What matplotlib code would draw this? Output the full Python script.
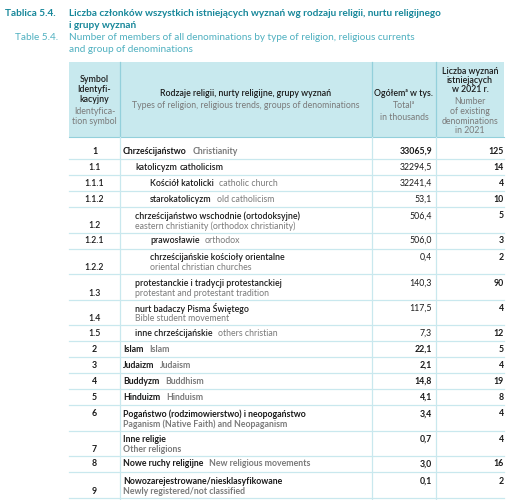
import matplotlib.pyplot as plt
from matplotlib.patches import Rectangle

plt.rcParams['font.family'] = ['Lato', 'DejaVu Sans']

# --- data ---
symbols = ['1', '1.1', '1.1.1', '1.1.2', '1.2', '1.2.1', '1.2.2', '1.3', '1.4', '1.5',
           '2', '3', '4', '5', '6', '7', '8', '9']
levels = [0, 1, 2, 2, 1, 2, 2, 1, 1, 1, 0, 0, 0, 0, 0, 0, 0, 0]
names_pl = ['Chrześcijaństwo', 'katolicyzm', 'Kościół katolicki', 'starokatolicyzm',
            'chrześcijaństwo wschodnie (ortodoksyjne)', 'prawosławie',
            'chrześcijańskie kościoły orientalne', 'protestanckie i tradycji protestanckiej',
            'nurt badaczy Pisma Świętego', 'inne chrześcijańskie', 'Islam', 'Judaizm',
            'Buddyzm', 'Hinduizm', 'Pogaństwo (rodzimowierstwo) i neopogaństwo',
            'Inne religie', 'Nowe ruchy religijne', 'Nowozarejestrowane/niesklasyfikowane']
names_en = ['Christianity', 'catholicism', 'catholic church', 'old catholicism',
            'eastern christianity (orthodox christianity)', 'orthodox',
            'oriental christian churches', 'protestant and protestant tradition',
            'Bible student movement', 'others christian', 'Islam', 'Judaism',
            'Buddhism', 'Hinduism', 'Paganism (Native Faith) and Neopaganism',
            'Other religions', 'New religious movements', 'Newly registered/not classified']
two_line = [False, False, False, False, True, False, True, True, True, False,
            False, False, False, False, True, True, False, True]
totals = [33065.9, 32294.5, 32241.4, 53.1, 506.4, 506.0, 0.4, 140.3, 117.5, 7.3,
          22.1, 2.1, 14.8, 4.1, 3.4, 0.7, 3.0, 0.1]
counts = [125, 14, 4, 10, 5, 3, 2, 90, 4, 12, 5, 4, 19, 8, 4, 4, 16, 2]

title_pl = ['Liczba członków wszystkich istniejących wyznań wg rodzaju religii, nurtu religijnego',
            'i grupy wyznań']
title_en = ['Number of members of all denominations by type of religion, religious currents',
            'and group of denominations']

# --- style ---
TEAL = '#17879a'
TEAL_LIGHT = '#4fb0c0'
HEAD_BG = '#c8e9ee'
LINE = '#c9e8ee'
VLINE_HEAD = '#93d0db'
GRAY = '#7a7a7a'
BLACK = '#1a1a1a'
FS = 6.3

X_LEFT, X_RIGHT = 69, 504
X_COLS = [120, 372, 436]
HEAD_TOP, HEAD_BOT = 62, 137
BODY_TOP = 143
H1, H2 = 16, 25.5

fig = plt.figure(figsize=(5.18, 5.0), dpi=100)
ax = fig.add_axes([0, 0, 1, 1])
ax.set_xlim(0, 518)
ax.set_ylim(500, 0)
ax.axis('off')

# title
ax.text(5, 14, 'Tablica 5.4.', color=TEAL, fontsize=7.2, fontweight='bold', va='center')
ax.text(15, 38, 'Table 5.4.', color=TEAL_LIGHT, fontsize=7.2, va='center')
for i, line in enumerate(title_pl):
    ax.text(69, 14 + 11.5 * i, line, color=TEAL, fontsize=7.2, fontweight='bold', va='center')
for i, line in enumerate(title_en):
    ax.text(69, 38 + 11.5 * i, line, color=TEAL_LIGHT, fontsize=7.2, va='center')

# header
ax.add_patch(Rectangle((X_LEFT, HEAD_TOP), X_RIGHT - X_LEFT, HEAD_BOT - HEAD_TOP,
                       facecolor=HEAD_BG, edgecolor='none'))
ax.plot([X_LEFT, X_RIGHT], [HEAD_BOT, HEAD_BOT], color=VLINE_HEAD, lw=0.8)
for x in X_COLS:
    ax.plot([x, x], [HEAD_TOP, HEAD_BOT], color=VLINE_HEAD, lw=0.9)
    ax.plot([x, x], [HEAD_BOT, 500], color=LINE, lw=0.9)

def lines(x, ys, texts, colors, weights, ha='center'):
    for y, t, c, w in zip(ys, texts, colors, weights):
        ax.text(x, y, t, color=c, fontsize=FS, fontweight=w, ha=ha, va='center')

lines(94.5, [80, 89.5, 99, 111, 121],
      ['Symbol', 'Identyfi-', 'kacyjny', 'Identyfica-', 'tion symbol'],
      [BLACK] * 3 + [GRAY] * 2, ['semibold'] * 3 + ['normal'] * 2)
lines(246, [94, 106],
      ['Rodzaje religii, nurty religijne, grupy wyznań',
       'Types of religion, religious trends, groups of denominations'],
      [BLACK, GRAY], ['semibold', 'normal'])
lines(404, [94, 106, 117],
      ['Ogółem\u1d43 w tys.', 'Total\u1d43', 'in thousands'],
      [BLACK, GRAY, GRAY], ['semibold', 'normal', 'normal'])
lines(470, [71, 80.5, 90, 102, 111.5, 121, 130.5],
      ['Liczba wyznań', 'istniejących', 'w 2021 r.', 'Number', 'of existing',
       'denominations', 'in 2021'],
      [BLACK] * 3 + [GRAY] * 4, ['semibold'] * 3 + ['normal'] * 4)

# body
name_x = [123, 135, 150]
y = BODY_TOP
for i in range(len(symbols)):
    h = H2 if two_line[i] else H1
    lvl = levels[i]
    top_y = y + 9 if two_line[i] else y + h / 2
    bot_y = y + 19 if two_line[i] else y + h / 2
    bold = 'bold' if lvl == 0 else 'semibold'
    sym_y = top_y if symbols[i] == '6' else bot_y
    ax.text(94.5, sym_y, symbols[i], fontsize=FS, fontweight=bold, color=BLACK,
            ha='center', va='center')
    en_color = BLACK if i == 1 else GRAY
    en_weight = 'bold' if lvl == 0 else 'normal'
    t1 = ax.text(name_x[lvl], top_y, names_pl[i], fontsize=FS, fontweight=bold,
                 color=BLACK, va='center')
    if two_line[i]:
        ax.text(name_x[lvl], bot_y, names_en[i], fontsize=FS, fontweight=en_weight,
                color=en_color, va='center')
    else:
        ax.annotate(names_en[i], xy=(1, 0), xycoords=t1, xytext=(4 if i != 1 else 2, 0),
                    textcoords='offset points', fontsize=FS,
                    fontweight='semibold' if i == 1 else en_weight,
                    color=en_color, va='bottom')
    ax.text(432, top_y, f'{totals[i]:.1f}'.replace('.', ','), fontsize=FS,
            fontweight='bold' if lvl == 0 else 'normal', color=BLACK, ha='right', va='center')
    ax.text(504, top_y, str(counts[i]), fontsize=FS,
            fontweight='bold', color=BLACK, ha='right', va='center')
    y += h
    ax.plot([X_LEFT, X_RIGHT], [y, y], color=LINE, lw=0.9)

fig.savefig('out.png', dpi=100)
